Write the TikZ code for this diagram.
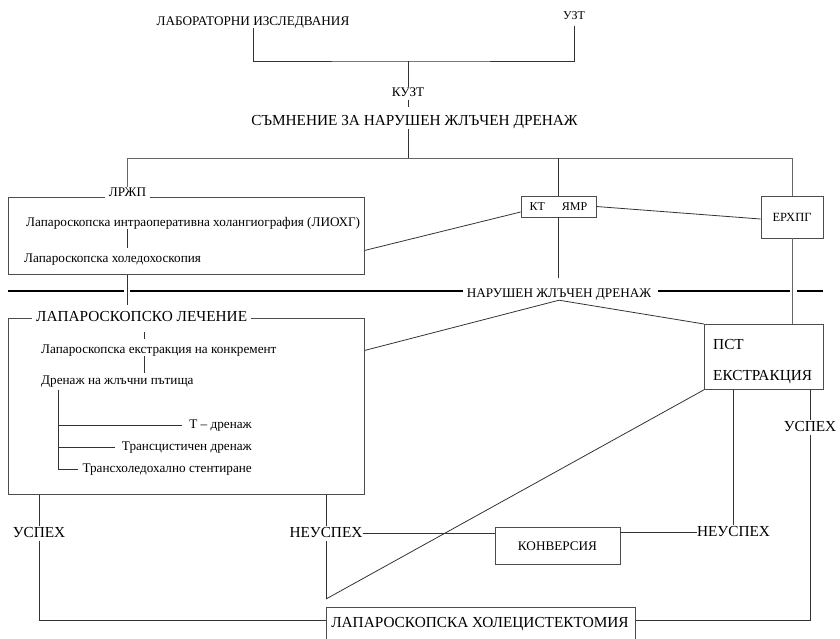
\documentclass[tikz,border=0pt]{standalone}
\usepackage{fontspec}
\setmainfont{Liberation Serif}
\begin{document}
\begin{tikzpicture}[x=1pt,y=-1pt,
  t12/.style={font=\fontsize{12}{14}\selectfont, inner sep=0pt, text height=8.5pt, text depth=3pt},
  t13/.style={font=\fontsize{13.2}{15}\selectfont, inner sep=0pt, text height=9pt, text depth=3pt},
  t15/.style={font=\fontsize{15.3}{17}\selectfont, inner sep=0pt, text height=10.5pt, text depth=3.5pt},
  frame/.style={draw=black!70, line width=0.8pt, rectangle, inner sep=0pt},
  conn/.style={draw=black!80, line width=0.8pt},
  sep/.style={draw=black, line width=2.6pt},
  lbl/.style={fill=white, inner xsep=4pt}
]
\useasboundingbox (0,0) rectangle (840,638);
\clip (0,0) rectangle (840,638);

% ---- top texts
\node[t13, anchor=base] (lab) at (253,25) {ЛАБОРАТОРНИ ИЗСЛЕДВАНИЯ};
\node[t12, anchor=base] (uzt) at (574,19.5) {УЗТ};
\node[t13, anchor=base] (kuzt) at (408,96.5) {КУЗТ};
\node[t15, anchor=base] (smn) at (414.5,125) {СЪМНЕНИЕ ЗА НАРУШЕН ЖЛЪЧЕН ДРЕНАЖ};

\coordinate (j1) at (408,61);
\coordinate (bl) at (127,158);
\coordinate (br) at (792,158);

% ---- boxes row 1
\node[frame, minimum width=356pt, minimum height=77pt, anchor=north west] (b1) at (8,197) {};
\node[t13, anchor=base, lbl] (lrzhp) at (127.5,196) {ЛРЖП};
\node[t13, anchor=base west] (liokhg) at (26,226) {Лапароскопска интраоперативна холангиография (ЛИОХГ)};
\node[t13, anchor=base west] (hol) at (24,262) {Лапароскопска холедохоскопия};

\node[frame, minimum width=75pt, minimum height=21pt, font=\fontsize{12}{14}\selectfont, text height=8pt, text depth=0pt] (kt) at (558.5,206.5) {КТ\hspace{17pt}ЯМР};
\node[frame, minimum width=62pt, minimum height=42pt, font=\fontsize{12.5}{14}\selectfont, text height=8.5pt, text depth=0pt] (erh) at (792,217) {ЕРХПГ};

% ---- separator
\node[t13, anchor=base] (nar) at (559,297) {НАРУШЕН ЖЛЪЧЕН ДРЕНАЖ};
\draw[sep] (8,291) -- (124,291) (130,291) -- (463,291) (658,291) -- (790,291) (797,291) -- (823,291);

% ---- box 2
\node[frame, minimum width=356pt, minimum height=176pt, anchor=north west] (b2) at (8,318) {};
\node[t15, anchor=base west, lbl] (lapl) at (32,321) {ЛАПАРОСКОПСКО ЛЕЧЕНИЕ};
\node[t13, anchor=base west] (ext) at (41,353) {Лапароскопска екстракция на конкремент};
\node[t13, anchor=base west] (dren) at (41,384) {Дренаж на жлъчни пътища};
\node[t13, anchor=base east] (tdr) at (252,428) {Т – дренаж};
\node[t13, anchor=base east] (tcd) at (252,450) {Трансцистичен дренаж};
\node[t13, anchor=base east] (tst) at (252,472) {Трансхоледохално стентиране};
\coordinate (x144) at (144,0);
\coordinate (x58) at (58,0);

% ---- ПСТ box
\node[frame, minimum width=119pt, minimum height=65pt, anchor=north west] (pst) at (704,324) {};
\node[t15, anchor=base west] (pst1) at (713,349) {ПСТ};
\node[t15, anchor=base west] (pst2) at (713,380) {ЕКСТРАКЦИЯ};

% ---- bottom
\node[t15, anchor=base] (usp2) at (810,431) {УСПЕХ};
\node[t15, anchor=base] (usp1) at (39,537) {УСПЕХ};
\node[t15, anchor=base] (neu1) at (326,537) {НЕУСПЕХ};
\node[t15, anchor=base] (neu2) at (733.5,536) {НЕУСПЕХ};
\node[frame, minimum width=125pt, minimum height=37pt, font=\fontsize{13.2}{15}\selectfont, text height=9pt, text depth=0pt] (conv) at (557.5,545.5) {КОНВЕРСИЯ};
\node[frame, minimum width=309pt, minimum height=45pt, anchor=north west] (b5) at (326,607) {};
\node[t15, anchor=base] (lhx) at (480,627) {ЛАПАРОСКОПСКА ХОЛЕЦИСТЕКТОМИЯ};
\coordinate (j5) at (326,599);

% ---- connectors
\draw[conn, shorten >=3.5pt] (lab.south) |- (j1) -| (uzt.south);
\draw[conn] (j1) -- (kuzt.north);
\draw[conn, shorten >=7.5pt] (kuzt.south) -- (kuzt.south |- smn.north);
\draw[conn] (kuzt.south |- smn.south) -- (kuzt.south |- bl);
\draw[conn, draw=black!60] (lrzhp.north) |- (br) -- (erh.north);
\draw[conn] (kt.north) -- (kt.north |- br);
\draw[conn, shorten >=5.5pt] (lrzhp.south |- b1.south) -- (lrzhp.south |- lapl.north);
\draw[conn, shorten >=5pt] (lrzhp.south |- liokhg.south) -- (lrzhp.south |- hol.north);
\draw[conn] ([yshift=-14.5pt]b1.east) -- ([yshift=-5.5pt]kt.west);
\draw[conn] (kt.east) -- ([yshift=-2pt]erh.west);
\draw[conn, shorten >=10pt] (kt.south) -- (kt.south |- nar.north);
\draw[conn, draw=black!60] (erh.south) -- (erh.south |- pst.north);
\draw[conn] ([yshift=56pt]b2.east) -- (nar.south) -- (pst.north west);
\draw[conn, shorten <=7pt, shorten >=5pt] (lapl.south -| x144) -- (ext.north -| x144);
\draw[conn, shorten >=2pt] (ext.south -| x144) -- (dren.north -| x144);
\draw[conn, shorten <=3pt, shorten >=4pt] (dren.south -| x58) |- (tst.west);
\draw[conn, shorten >=7pt] (x58 |- tdr.west) -- (tdr.west);
\draw[conn, shorten >=7pt] (x58 |- tcd.west) -- (tcd.west);
\draw[conn] (usp1.north |- b2.south) -- (usp1.north);
\draw[conn] (usp1.south) |- ([yshift=10pt]b5.west);
\draw[conn] (neu1.north |- b2.south) -- (neu1.north);
\draw[conn] (neu1.south) -- (j5);
\draw[conn] (j5) -- (pst.south west);
\draw[conn] (neu1.east) -- (neu1.east -| conv.west);
\draw[conn] (neu2.west -| conv.east) -- (neu2.west);
\draw[conn] (neu2.north |- pst.south) -- (neu2.north);
\draw[conn] (usp2.north |- pst.south) -- (usp2.north);
\draw[conn] (usp2.south) |- ([yshift=10pt]b5.east);
\end{tikzpicture}
\end{document}
